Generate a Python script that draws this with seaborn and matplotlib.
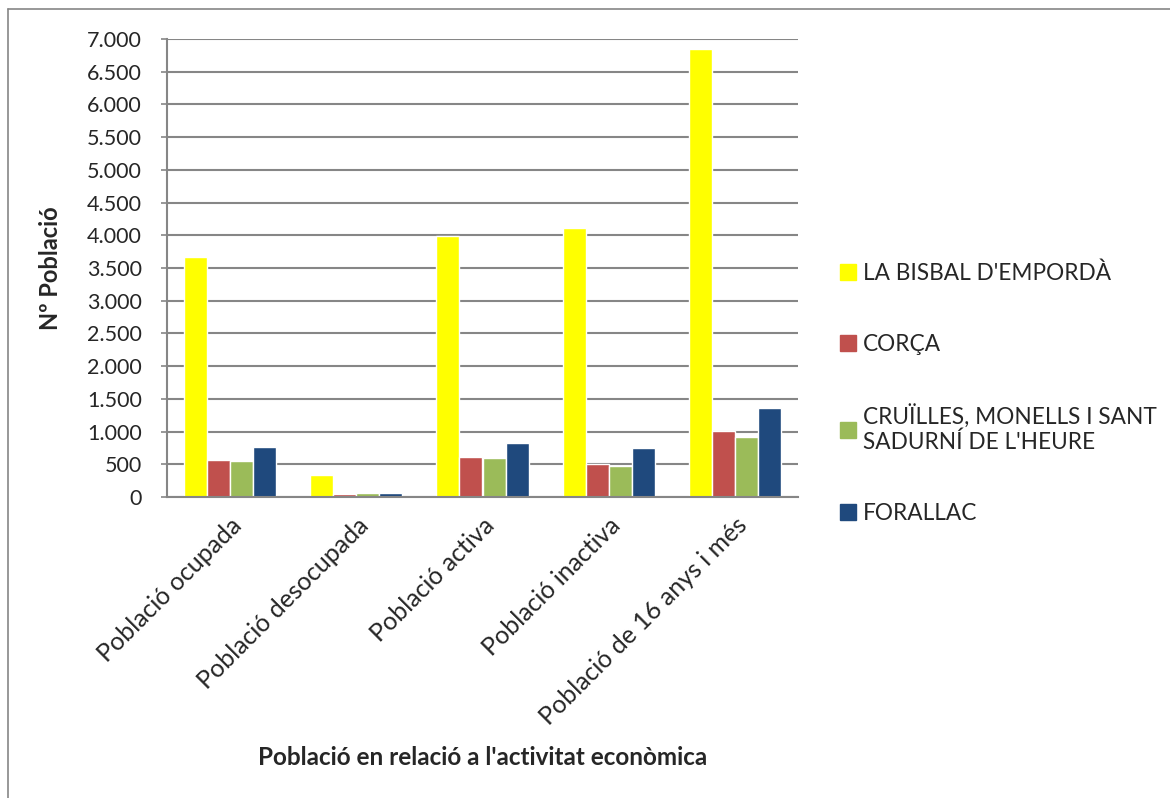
import matplotlib
matplotlib.use("Agg")
import matplotlib.pyplot as plt
import matplotlib.ticker as mticker
from matplotlib.lines import Line2D
import seaborn as sns
import pandas as pd

categories = ["Població ocupada", "Població desocupada", "Població activa",
              "Població inactiva", "Població de 16 anys i més"]
series_names = ["LA BISBAL D'EMPORDÀ", "CORÇA",
                "CRUÏLLES, MONELLS I SANT\nSADURNÍ DE L'HEURE", "FORALLAC"]
la_bisbal = [3664, 332, 3996, 4109, 6847]
corca = [572, 41, 613, 506, 1002]
cruilles = [552, 56, 598, 470, 915]
forallac = [767, 61, 818, 751, 1364]
colors = ["#FFFF00", "#C0504D", "#9BBB59", "#1F497D"]

rows = []
for name, vals in zip(series_names, [la_bisbal, corca, cruilles, forallac]):
    for c, v in zip(categories, vals):
        rows.append({"cat": c, "serie": name, "val": v})
df = pd.DataFrame(rows)

sns.set_theme(style="white")
plt.rcParams["font.family"] = ["Lato", "DejaVu Sans"]

fig = plt.figure(figsize=(11.7, 7.98), dpi=100)
ax = fig.add_axes([167/1170, 1-497/798, (798-167)/1170, (497-39)/798])

sns.barplot(data=df, x="cat", y="val", hue="serie", order=categories,
            hue_order=series_names, palette=colors, width=0.73,
            saturation=1, ax=ax, legend=False)

ax.set_ylim(0, 7000)
ax.set_xlim(-0.5, len(categories) - 0.5)
ax.yaxis.set_major_locator(mticker.MultipleLocator(500))
ax.yaxis.set_major_formatter(mticker.FuncFormatter(lambda v, p: f"{int(v):,}".replace(",", ".")))
ax.grid(axis="y", color="#868686", linewidth=1.5)
ax.set_axisbelow(True)
for s in ["top", "right"]:
    ax.spines[s].set_visible(False)
for s in ["left", "bottom"]:
    ax.spines[s].set_color("#868686")
    ax.spines[s].set_linewidth(1.5)
ax.tick_params(axis="y", which="major", left=True, length=4, width=1.2,
               color="#868686", labelsize=15.5, pad=14)
ax.tick_params(axis="x", bottom=False, labelsize=18, pad=6)
plt.setp(ax.get_xticklabels(), rotation=45, ha="right", rotation_mode="anchor")

ax.set_ylabel("Nº Població", fontsize=17, fontweight="bold")
ax.yaxis.set_label_coords(-(167-62)/631, 0.5)
ax.set_xlabel("Població en relació a l'activitat econòmica", fontsize=17.5,
              fontweight="bold")
ax.xaxis.set_label_coords((483-167)/(798-167), -(746-497)/(497-39))

handles = [Line2D([0], [0], marker="s", linestyle="none", markersize=12,
                  markerfacecolor=c, markeredgecolor=c) for c in colors]
fig.legend(handles, series_names, loc="upper left",
           bbox_to_anchor=(826/1170, 1-251/798), frameon=False,
           fontsize=16.3, labelspacing=2.2, handletextpad=0.25,
           handlelength=0.9, borderpad=0)

fig.add_artist(Line2D([8/1170, 1.01], [1-9/798, 1-9/798], transform=fig.transFigure,
                      color="#868686", linewidth=1.2))
fig.add_artist(Line2D([8/1170, 8/1170], [1-9/798, -0.01], transform=fig.transFigure,
                      color="#868686", linewidth=1.2))

fig.savefig("out.png", dpi=100)
